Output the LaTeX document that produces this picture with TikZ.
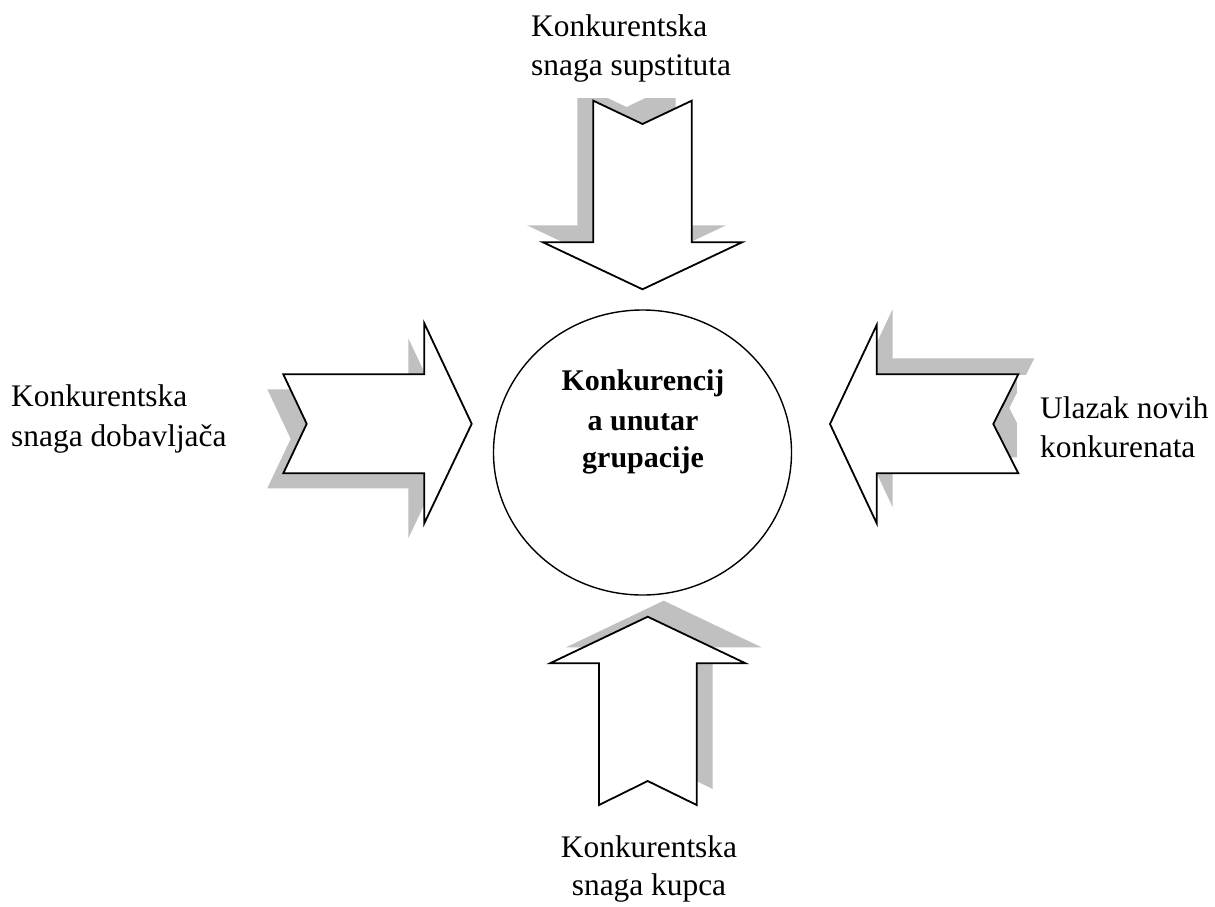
\documentclass[tikz,border=0pt]{standalone}
\usepackage{fontspec}
\setmainfont{Liberation Serif}
\usetikzlibrary{shapes.geometric}
\definecolor{shadowgray}{RGB}{192,192,192}
\tikzset{
  arrowbody/.style={draw=black, fill=white, line width=1.8pt, line join=miter},
  arrowshadow/.style={fill=shadowgray, draw=none},
  masker/.style={fill=white, draw=none},
  lbl/.style={inner sep=0pt, font=\fontsize{31.4}{38}\selectfont},
  corelbl/.style={inner sep=0pt, font=\fontsize{30}{38}\selectfont\bfseries},
}
\begin{document}
\begin{tikzpicture}[x=1pt,y=-1pt]
\useasboundingbox (0,0) rectangle (1215,906);
\fill[white] (0,0) rectangle (1215,906);

% arrow paths
\def\myTopArrow{(593.3,100.7) -- (642.5,124) -- (691.7,100.7) -- (691.7,242.3) -- (742,242.3) -- (642.5,289.3) -- (543,242.3) -- (593.3,242.3) -- cycle}
\def\myBottomArrow{(647.7,616.7) -- (745.5,663.3) -- (696.7,663.3) -- (696.7,805) -- (647.7,781) -- (599,805) -- (599,663.3) -- (550,663.3) -- cycle}
\def\myLeftArrow{(283.3,374.3) -- (424.3,374.3) -- (424.3,323.3) -- (471.7,423.8) -- (424.3,523.3) -- (424.3,473.3) -- (283.3,473.3) -- (306.7,423.8) -- cycle}
\def\myRightArrow{(830,424) -- (876.7,325) -- (876.7,374.3) -- (1018.3,374.3) -- (993.3,424) -- (1018.3,473.3) -- (876.7,473.3) -- (876.7,523.3) -- cycle}

% shadows
\fill[arrowshadow, shift={(-16,-17)}] \myTopArrow;
\fill[arrowshadow, shift={(16,-16)}] \myBottomArrow;
\fill[arrowshadow, shift={(-16,15)}] \myLeftArrow;
\fill[arrowshadow, shift={(16,-16)}] \myRightArrow;

% white text-box backgrounds covering shadows
\fill[masker] (520,0) rectangle (745,98);
\fill[masker] (1017,375) rectangle (1215,480);

% arrows
\draw[arrowbody] \myTopArrow;
\draw[arrowbody] \myBottomArrow;
\draw[arrowbody] \myLeftArrow;
\draw[arrowbody] \myRightArrow;

% central circle
\node[ellipse, draw=black, line width=1.4pt, fill=white, minimum width=298pt, minimum height=285pt, inner sep=0pt] (core) at (642.5,452.5) {};
\node[corelbl, anchor=base] (c1) at (643,390) {Konkurencij};
\node[corelbl, anchor=base] (c2) at (643,430) {a unutar};
\node[corelbl, anchor=base] (c3) at (643,467) {grupacije};

% labels
\node[lbl, anchor=base west] (t1) at (531,36) {Konkurentska};
\node[lbl, anchor=base west] (t2) at (531,75) {snaga supstituta};

\node[lbl, anchor=base west] (l1) at (11,406) {Konkurentska};
\node[lbl, anchor=base west] (l2) at (11,446) {snaga dobavljača};

\node[lbl, anchor=base west] (r1) at (1040,418) {Ulazak novih};
\node[lbl, anchor=base west] (r2) at (1040,457) {konkurenata};

\node[lbl, anchor=base] (b1) at (649,857) {Konkurentska};
\node[lbl, anchor=base] (b2) at (649,895) {snaga kupca};
\end{tikzpicture}
\end{document}
